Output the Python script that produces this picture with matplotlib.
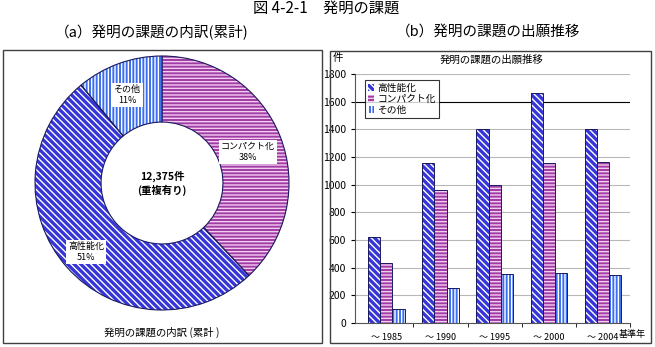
import matplotlib.pyplot as plt
import numpy as np
from matplotlib.patches import Rectangle, Patch

plt.rcParams['font.family'] = ['Noto Sans CJK JP', 'DejaVu Sans']
plt.rcParams['hatch.linewidth'] = 1.0

# data
pie_labels = ['コンパクト化', '高性能化', 'その他']
pie_share = [38, 51, 11]
total_text = '12,375件\n(重複有り)'

periods = ['～ 1985', '～ 1990', '～ 1995', '～ 2000', '～ 2004']
high_perf = [620, 1160, 1400, 1665, 1400]
compact = [435, 960, 995, 1155, 1165]
others = [100, 250, 355, 365, 345]

# styles: (face, hatch)
c_high = ('#3535d8', '\\\\\\\\\\')
c_comp = ('#a03ca3', '-----')
c_oth = ('#3c6ff0', '|||||')
hatch_col = {'high': 'white', 'comp': '#f2cdf2', 'oth': 'white'}

W, H = 655, 347
fig = plt.figure(figsize=(W / 100, H / 100), dpi=100)


def box(x0, y0, x1, y1):
    # pixel coords (top-left origin) -> figure fraction
    return [x0 / W, 1 - y1 / H, (x1 - x0) / W, (y1 - y0) / H]


# titles
fig.text(326 / W, 1 - 9 / H, '図 4-2-1　発明の課題', ha='center', va='center', fontsize=11)
fig.text(152 / W, 1 - 32 / H, '（a）発明の課題の内訳(累計)', ha='center', va='center', fontsize=10.5)
fig.text(488 / W, 1 - 32 / H, '（b）発明の課題の出願推移', ha='center', va='center', fontsize=10.5)

# panel frames
for (x0, y0, x1, y1) in [(3, 50, 322, 343), (330, 51, 651, 343)]:
    fig.add_artist(Rectangle((x0 / W, 1 - y1 / H), (x1 - x0) / W, (y1 - y0) / H,
                             transform=fig.transFigure, fill=False,
                             edgecolor='#404040', lw=1))

# ---- donut ----
r_px = 127
cx, cy = 162, 183
half = 1.1 * r_px
ax1 = fig.add_axes(box(cx - half, cy - half, cx + half, cy + half))

styles = [(c_comp, 'comp'), (c_high, 'high'), (c_oth, 'oth')]
wedges, _ = ax1.pie(pie_share, startangle=90, counterclock=False, radius=1,
                    wedgeprops=dict(width=0.52, linewidth=0))
for w, ((fc, h), key) in zip(wedges, styles):
    w.set_facecolor(fc)
    w.set_edgecolor(hatch_col[key])
    w.set_hatch(h)
ax1.pie(pie_share, startangle=90, counterclock=False, radius=1,
        wedgeprops=dict(width=0.52, fill=False, edgecolor='#1a1a60', linewidth=0.8))
ax1.set_xlim(-1.1, 1.1)
ax1.set_ylim(-1.1, 1.1)
ax1.set_aspect('equal')
ax1.axis('off')

ax1.text(0, 0, total_text, ha='center', va='center', fontsize=7.5, fontweight='bold',
         linespacing=1.3)

lbl_pos = {'コンパクト化': (248, 152), '高性能化': (86, 252), 'その他': (127, 95)}
for name, pct in zip(pie_labels, pie_share):
    px, py = lbl_pos[name]
    ax1.text((px - cx) / r_px, (cy - py) / r_px, f'{name}\n{pct}%', ha='center', va='center',
             fontsize=6.5, linespacing=1.3,
             bbox=dict(facecolor='white', edgecolor='none', pad=1.5))

fig.text(162 / W, 1 - 332 / H, '発明の課題の内訳 (累計 )', ha='center', va='center', fontsize=7.5)

# ---- bars ----
ax2 = fig.add_axes(box(355, 74, 630, 323))
x = np.arange(len(periods))
bw = 0.225
series = [(high_perf, c_high, 'high', '高性能化'),
          (compact, c_comp, 'comp', 'コンパクト化'),
          (others, c_oth, 'oth', 'その他')]
handles = []
for i, (vals, (fc, h), key, name) in enumerate(series):
    pos = x + (i - 1) * bw
    ax2.bar(pos, vals, bw, color=fc, edgecolor=hatch_col[key], hatch=h, linewidth=0, zorder=2)
    ax2.bar(pos, vals, bw, fill=False, edgecolor='#1a1a60', linewidth=0.7, zorder=3)
    handles.append(Patch(facecolor=fc, edgecolor=hatch_col[key], hatch=h, linewidth=0, label=name))

ax2.set_xlim(-0.58, 4.5)
ax2.set_ylim(0, 1800)
ax2.set_yticks(range(0, 1801, 200))
ax2.set_xticks(x)
ax2.set_xticklabels(periods)
ax2.set_xticks(np.arange(0.5, 4.6, 1), minor=True)
ax2.tick_params(axis='x', which='major', length=0, labelsize=6.5, pad=7)
ax2.tick_params(axis='x', which='minor', length=3, direction='out')
ax2.tick_params(axis='y', length=3, labelsize=7.5)
for yv in range(200, 1801, 200):
    ax2.axhline(yv, color='black' if yv == 1600 else '#b8b8b8', lw=0.8, zorder=1)
for s in ['top', 'right']:
    ax2.spines[s].set_visible(False)
ax2.spines['left'].set_color('#555555')
ax2.spines['bottom'].set_color('#555555')

fig.text(619 / W, 1 - 335 / H, '基準年', ha='left', va='center', fontsize=6.5)
fig.text(333 / W, 1 - 58 / H, '件', ha='left', va='center', fontsize=7.5)
fig.text(492 / W, 1 - 60 / H, '発明の課題の出願推移', ha='center', va='center', fontsize=7.5)

leg = ax2.legend(handles=handles, loc='upper left', bbox_to_anchor=(0.035, 0.975),
                 fontsize=7, frameon=True, fancybox=False, edgecolor='black',
                 handlelength=0.7, handleheight=0.7, handletextpad=0.3,
                 borderpad=0.3, labelspacing=0.1, borderaxespad=0)
leg.get_frame().set_linewidth(0.8)

fig.savefig('out.png', dpi=100)
